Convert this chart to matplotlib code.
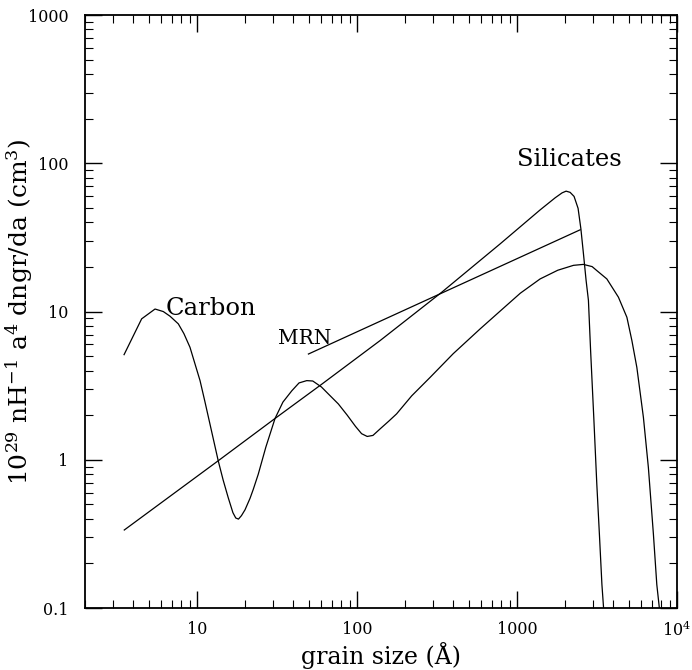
import numpy as np
import matplotlib
matplotlib.use("Agg")
import matplotlib.pyplot as plt
from matplotlib.ticker import LogLocator, NullFormatter

plt.rcParams['font.family'] = ['DejaVu Serif']
plt.rcParams['mathtext.fontset'] = 'dejavuserif'

# grain size (Angstrom) and 10^29 nH^-1 a^4 dn/da
carbon_a = [3.51, 4.52, 5.48, 6.17, 6.8, 7.66, 8.3, 9.06, 10.47, 11.2, 12.08,
            13.6, 14.6, 15.7, 16.8, 17.5, 18.2, 19.0, 20.0, 21.5, 22.5, 24.2,
            27, 30.8, 34.5, 39.2, 43.5, 48.6, 53, 60, 67, 76.6, 87, 98, 107,
            116, 126, 140, 158, 177, 220, 287, 400, 589, 804, 1050, 1396, 1800,
            2256, 2600, 2950, 3155, 3645, 4306, 4864, 5227, 5613, 6170, 6626,
            7123, 7480, 7800]
carbon_y = [5.12, 8.93, 10.4, 10.0, 9.3, 8.26, 7.1, 5.74, 3.42, 2.5, 1.74,
            0.985, 0.73, 0.556, 0.44, 0.405, 0.398, 0.42, 0.46, 0.55, 0.63, 0.80,
            1.22, 1.90, 2.45, 2.92, 3.3, 3.42, 3.4, 3.1, 2.75, 2.38, 2.0, 1.68, 1.5,
            1.437, 1.46, 1.62, 1.82, 2.04, 2.7, 3.6, 5.2, 7.64, 10.3, 13.3, 16.6, 19.0,
            20.5, 20.8, 20.1, 18.9, 16.6, 12.5, 9.15, 6.37, 4.2, 1.93, 0.887,
            0.315, 0.144, 0.095]

sil_a = [3.52, 13.6, 30.8, 59.5, 139.6, 339, 785, 1396, 1732, 1915, 2029,
         2149, 2275, 2410, 2509, 2604, 2705, 2797, 2886, 3021, 3155, 3275,
         3396, 3490]
sil_y = [0.336, 0.985, 1.90, 3.2, 6.37, 13.5, 28.6, 48.5, 58.5, 63.2, 64.9,
         63.7, 59.8, 49.7, 36.2, 24.5, 16.2, 11.9, 5.45, 1.93, 0.686, 0.315,
         0.144, 0.095]

mrn_a = [49.8, 2483]
mrn_y = [5.17, 35.6]

xticks = [10, 100, 1000, 10000]
xticklabels = ['10', '100', '1000', '10$^4$']
yticks = [0.1, 1, 10, 100, 1000]
yticklabels = ['0.1', '1', '10', '100', '1000']

fig = plt.figure(figsize=(6.92, 6.7), dpi=100)
ax = fig.add_axes([0.1228, 0.0925, 0.8555, 0.885])

for a, y in [(carbon_a, carbon_y), (sil_a, sil_y), (mrn_a, mrn_y)]:
    ax.plot(a, y, color='black', lw=0.9)

ax.set_xscale('log')
ax.set_yscale('log')
ax.set_xlim(2, 10000)
ax.set_ylim(0.1, 1000)

ax.set_xticks(xticks)
ax.set_xticklabels(xticklabels)
ax.set_yticks(yticks)
ax.set_yticklabels(yticklabels)
ax.xaxis.set_minor_locator(LogLocator(base=10, subs=np.arange(2, 10)))
ax.yaxis.set_minor_locator(LogLocator(base=10, subs=np.arange(2, 10)))
ax.xaxis.set_minor_formatter(NullFormatter())
ax.yaxis.set_minor_formatter(NullFormatter())

ax.tick_params(which='both', direction='in', top=True, right=True, labelsize=11.5)
ax.tick_params(which='major', length=12, width=1.0)
ax.tick_params(which='minor', length=6, width=0.8)
ax.tick_params(axis='x', which='major', pad=9)
ax.tick_params(axis='y', which='major', pad=12)
for s in ax.spines.values():
    s.set_linewidth(1.3)

ax.set_xlabel('grain size (Å)', fontsize=17)
ax.xaxis.set_label_coords(0.5, -0.058)
ax.set_ylabel('10$^{29}$ nH$^{-1}$ a$^4$ dngr/da (cm$^3$)', fontsize=18)
ax.yaxis.set_label_coords(-0.085, 0.5)

ax.text(6.41, 9.55, 'Carbon', fontsize=17.5, ha='left', va='baseline')
ax.text(32, 6.05, 'MRN', fontsize=14.5, ha='left', va='baseline')
ax.text(998, 95.5, 'Silicates', fontsize=17.5, ha='left', va='baseline')

fig.savefig('out.png', dpi=100)
